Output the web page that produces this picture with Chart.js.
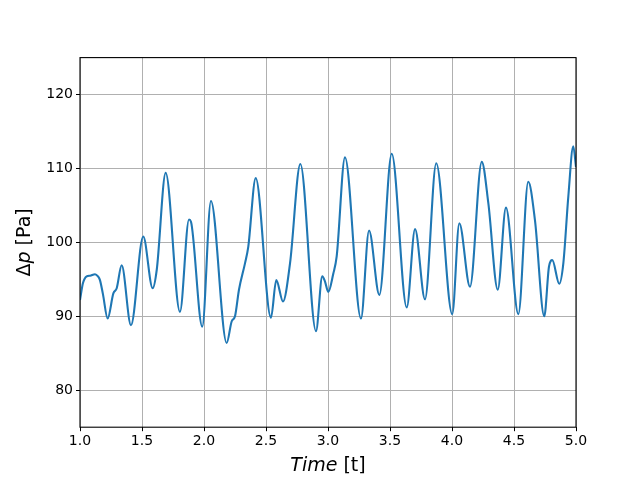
<!DOCTYPE html>
<html>
<head>
<meta charset="utf-8">
<script src="https://cdn.jsdelivr.net/npm/chart.js@4"></script>
<style>
  body { margin: 0; background: #fff; }
</style>
</head>
<body>
<canvas id="chart" width="640" height="480"></canvas>
<script>
// time samples
const timeValues = [
  1.000, 1.024, 1.054, 1.081, 1.121, 1.145, 1.161, 1.185, 1.223, 1.269,
  1.296, 1.336, 1.411, 1.510, 1.586, 1.619, 1.691, 1.806, 1.879, 1.895,
  1.986, 2.056, 2.183, 2.223, 2.250, 2.282, 2.331, 2.357, 2.417, 2.540,
  2.583, 2.637, 2.694, 2.777, 2.903, 2.954, 2.976, 3.002, 3.043, 3.070,
  3.137, 3.266, 3.331, 3.414, 3.514, 3.635, 3.702, 3.782, 3.873, 4.002,
  4.059, 4.145, 4.240, 4.293, 4.369, 4.435, 4.535, 4.615, 4.669, 4.744,
  4.782, 4.809, 4.865, 4.898, 4.938, 4.978, 5.000
];
// pressure drop in Pa
const dpValues = [
  92.2, 94.5, 95.4, 95.5, 95.7, 95.4, 94.9, 93.0, 89.7, 93.1,
  93.8, 96.9, 88.8, 100.8, 93.8, 96.3, 109.4, 90.6, 103.1, 102.8,
  88.6, 105.6, 86.4, 89.3, 90.0, 93.6, 97.2, 99.4, 108.7, 89.8,
  94.9, 92.0, 97.2, 110.6, 88.0, 95.4, 94.7, 93.3, 95.8, 98.1,
  111.5, 89.7, 101.6, 92.9, 112.0, 91.2, 101.8, 92.3, 110.7, 90.3,
  102.6, 94.0, 110.9, 105.3, 93.6, 104.7, 90.3, 108.2, 103.0, 90.0,
  96.7, 97.6, 94.4, 97.2, 106.2, 113.0, 110.2
];
const xTicks = [1.0, 1.5, 2.0, 2.5, 3.0, 3.5, 4.0, 4.5, 5.0];
const yTicks = [80, 90, 100, 110, 120];

const FONT = "'DejaVu Sans', sans-serif";

function drawMixed(ctx, parts, size) {
  let widths = parts.map((p) => {
    ctx.font = (p.italic ? "italic " : "") + size + "px " + FONT;
    return ctx.measureText(p.text).width;
  });
  let total = widths.reduce((a, b) => a + b, 0);
  let x = -total / 2;
  parts.forEach((p, i) => {
    ctx.font = (p.italic ? "italic " : "") + size + "px " + FONT;
    ctx.fillText(p.text, x, 0);
    x += widths[i];
  });
}

// box around the plot and the two axis labels
const framePlugin = {
  id: "frame",
  afterDraw(chart) {
    const ctx = chart.ctx;
    const a = chart.chartArea;
    ctx.save();
    ctx.strokeStyle = "#000";
    ctx.lineWidth = 1.1;
    ctx.strokeRect(a.left, a.top, a.right - a.left, a.bottom - a.top);

    ctx.fillStyle = "#000";
    ctx.textAlign = "left";
    ctx.textBaseline = "middle";
    ctx.save();
    ctx.translate((a.left + a.right) / 2, 466);
    drawMixed(ctx, [{ text: "Time", italic: true }, { text: " [t]" }], 19);
    ctx.restore();

    ctx.save();
    ctx.translate(25, (a.top + a.bottom) / 2);
    ctx.rotate(-Math.PI / 2);
    drawMixed(ctx, [{ text: "Δ" }, { text: "p", italic: true }, { text: " [Pa]" }], 19);
    ctx.restore();
    ctx.restore();
  },
};

const points = timeValues.map((t, i) => ({ x: t, y: dpValues[i] }));

new Chart(document.getElementById("chart"), {
  type: "line",
  data: {
    datasets: [
      {
        data: points,
        borderColor: "#1f77b4",
        borderWidth: 2.1,
        pointRadius: 0,
        cubicInterpolationMode: "monotone",
        fill: false,
      },
    ],
  },
  options: {
    responsive: false,
    animation: false,
    layout: { padding: { top: 57.6, right: 64, left: 0, bottom: 0 } },
    plugins: { legend: { display: false }, tooltip: { enabled: false } },
    scales: {
      x: {
        type: "linear",
        min: 1,
        max: 5,
        afterBuildTicks: (scale) => {
          scale.ticks = xTicks.map((v) => ({ value: v }));
        },
        afterFit: (scale) => {
          scale.height = 52.8;
        },
        grid: {
          color: "#b0b0b0",
          lineWidth: 1,
          tickColor: "#000",
          tickLength: 4,
        },
        border: { display: false },
        ticks: {
          color: "#000",
          font: { family: FONT, size: 14 },
          padding: 2,
          maxRotation: 0,
          autoSkip: false,
          callback: (v) => v.toFixed(1),
        },
      },
      y: {
        min: 75,
        max: 125,
        afterBuildTicks: (scale) => {
          scale.ticks = yTicks.map((v) => ({ value: v }));
        },
        afterFit: (scale) => {
          scale.width = 80;
        },
        grid: {
          color: "#b0b0b0",
          lineWidth: 1,
          tickColor: "#000",
          tickLength: 4,
        },
        border: { display: false },
        ticks: {
          color: "#000",
          font: { family: FONT, size: 14 },
          padding: 3,
          autoSkip: false,
          callback: (v) => String(v),
        },
      },
    },
  },
  plugins: [framePlugin],
});
</script>
</body>
</html>
